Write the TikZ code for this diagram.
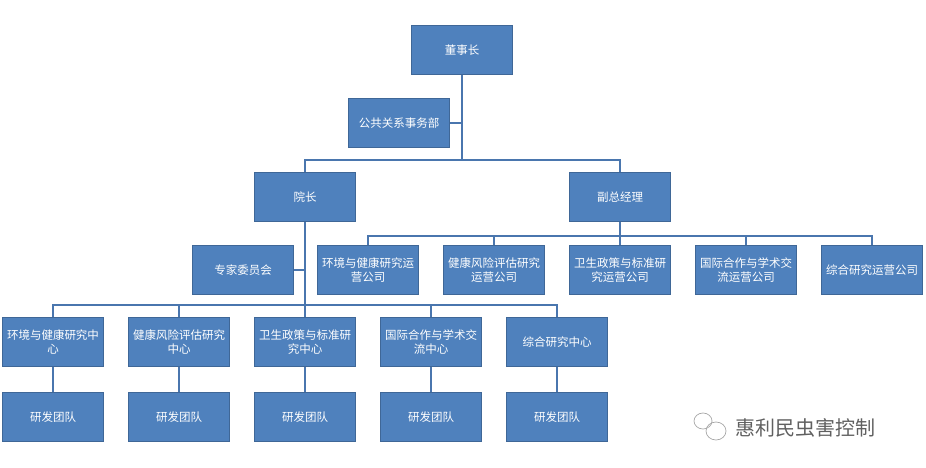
\documentclass[tikz,border=0pt]{standalone}
\usepackage{fontspec}
\setmainfont{Noto Sans CJK SC}
\begin{document}
\begin{tikzpicture}[x=1pt,y=-1pt,
 bx/.style={fill=boxblue,draw=boxblue!80!black,line width=0.4pt,minimum width=101pt,minimum height=49pt,inner sep=0pt,text=white,font=\fontsize{11.5}{14}\selectfont,align=center},
 ln/.style={draw=lineblue,line width=2pt}]
\definecolor{boxblue}{HTML}{4F81BD}
\definecolor{lineblue}{HTML}{4A76AE}
\useasboundingbox (0,0) rectangle (926,467);
\node[bx] (ceo) at (462,50) {董事长};
\node[bx] (pr) at (399,123) {公共关系事务部};
\node[bx] (dean) at (305,197) {院长};
\node[bx] (vp) at (620,197) {副总经理};
\node[bx] (exp) at (243,270) {专家委员会};
\foreach \n/\x/\t in {c1/368/{环境与健康研究运\\营公司},c2/494/{健康风险评估研究\\运营公司},c3/620/{卫生政策与标准研\\究运营公司},c4/746/{国际合作与学术交\\流运营公司},c5/872/{综合研究运营公司}}
  \node[bx] (\n) at (\x,270) {\t};
\foreach \n/\x/\t in {r1/53/{环境与健康研究中\\心},r2/179/{健康风险评估研究\\中心},r3/305/{卫生政策与标准研\\究中心},r4/431/{国际合作与学术交\\流中心},r5/557/{综合研究中心}}{
  \node[bx] (\n) at (\x,342) {\t};
  \node[bx] (t\n) at (\x,417) {研发团队};
  \draw[ln] (\n.south) -- (t\n.north);
}
\coordinate (j1) at (462,160);
\draw[ln] (ceo.south) -- (j1);
\draw[ln] (pr.east) -- (pr.east -| ceo.south);
\draw[ln] (dean.north) |- (j1) -| (vp.north);
\draw[ln] (vp.south) -- ++(0,14) coordinate (j2);
\draw[ln] (c1.north) |- (j2) -| (c5.north);
\foreach \n in {c2,c3,c4} \draw[ln] (\n.north) -- (\n.north |- j2);
\coordinate (j3) at (305,305);
\draw[ln] (dean.south) -- (j3);
\draw[ln] (exp.east) -- (exp.east -| dean.south);
\draw[ln] (r1.north) |- (j3) -| (r5.north);
\foreach \n in {r2,r3,r4} \draw[ln] (\n.north) -- (\n.north |- j3);
% watermark
\begin{scope}[draw=gray!70,line width=0.7pt]
\draw (703,421) ellipse (9 and 8);
\draw (716,431) ellipse (10 and 9);
\end{scope}
\node[text=gray!75!black,font=\fontsize{20}{24}\selectfont,anchor=west,inner sep=0pt] (wm) at (735,428) {惠利民虫害控制};
\end{tikzpicture}
\end{document}
